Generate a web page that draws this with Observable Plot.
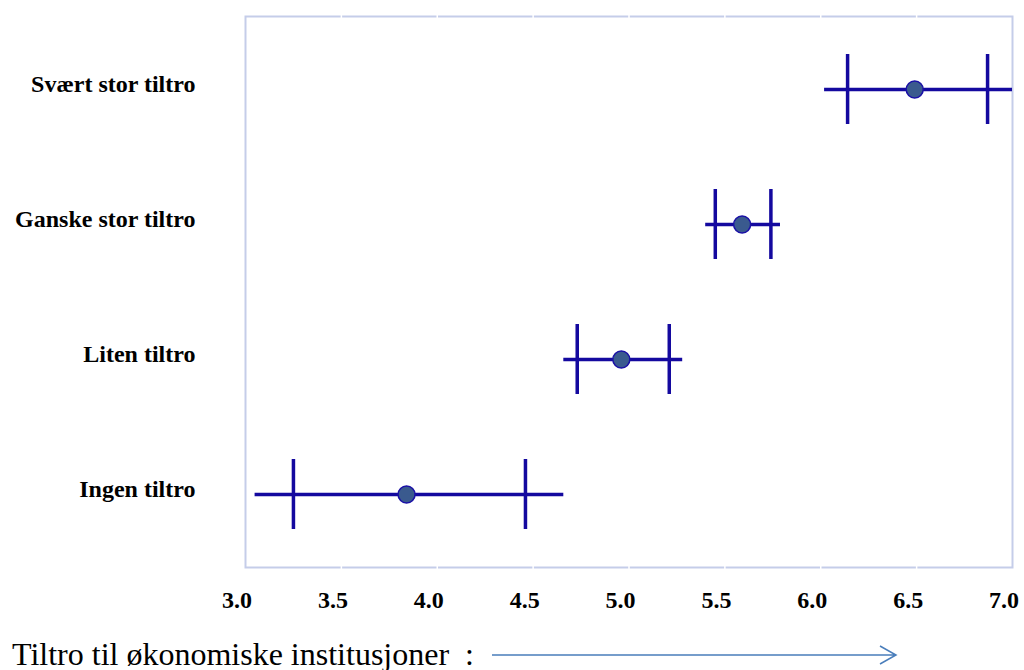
<!DOCTYPE html>
<html>
<head>
<meta charset="utf-8">
<script src="https://cdn.jsdelivr.net/npm/d3@7"></script>
<script src="https://cdn.jsdelivr.net/npm/@observablehq/plot@0.6"></script>
<style>
  html, body { margin: 0; padding: 0; background: #fff; overflow: hidden; }
  #wrap { position: relative; width: 1024px; height: 670px; }
  #caption {
    position: absolute; left: 12px; top: 638px;
    font-family: "Liberation Serif", "Times New Roman", serif;
    font-size: 32px; line-height: 32px; white-space: pre; color: #000;
  }
  #arrow { position: absolute; left: 0; top: 0; pointer-events: none; }
</style>
</head>
<body>
<div id="wrap"></div>
<script>
const categories = ["Svært stor tiltro", "Ganske stor tiltro", "Liten tiltro", "Ingen tiltro"];
const means     = [6.49, 5.59, 4.96, 3.84];
const lineLow   = [6.02, 5.40, 4.66, 3.05];
const lineHigh  = [7.00, 5.79, 5.28, 4.66];
const barLow    = [6.14, 5.45, 4.73, 3.25];
const barHigh   = [6.87, 5.74, 5.21, 4.46];
const xTicks    = [3.0, 3.5, 4.0, 4.5, 5.0, 5.5, 6.0, 6.5, 7.0];
const innerTicks = [3.5, 4.0, 4.5, 5.0, 5.5, 6.0, 6.5];
const captionText = "Tiltro til økonomiske institusjoner  :";

const rows = categories.map((c, i) => ({
  cat: c, mean: means[i], lo: lineLow[i], hi: lineHigh[i], blo: barLow[i], bhi: barHigh[i]
}));
const bars = rows.flatMap(r => [{cat: r.cat, v: r.blo}, {cat: r.cat, v: r.bhi}]);

const lineColor = "#14099f";

const chart = Plot.plot({
  width: 1024,
  height: 670,
  marginLeft: 245,
  marginRight: 12,
  marginTop: 16,
  marginBottom: 103,
  style: {fontFamily: "'Liberation Serif', 'Times New Roman', serif", fontSize: "24px", fontWeight: "bold", color: "#000", background: "#fff"},
  x: {domain: [3, 7]},
  y: {type: "band", domain: categories, paddingInner: 0.484, paddingOuter: 0.272},
  marks: [
    Plot.frame({stroke: "#c5cde9", strokeWidth: 2}),
    Plot.ruleX(innerTicks, {stroke: "white", strokeWidth: 1.5, insetTop: -2, insetBottom: -2}),
    Plot.axisX({ticks: xTicks, tickFormat: d3.format(".1f"), tickSize: 0, tickPadding: 23, dx: -8.5, label: null, fontSize: 24, fontWeight: "bold"}),
    Plot.axisY({tickSize: 0, tickPadding: 50, dy: -5, label: null, fontSize: 24, fontWeight: "bold"}),
    Plot.ruleY(rows, {y: "cat", x1: "lo", x2: "hi", stroke: lineColor, strokeWidth: 3.5, clip: true}),
    Plot.tickX(bars, {x: "v", y: "cat", stroke: lineColor, strokeWidth: 3.5}),
    Plot.dot(rows, {x: "mean", y: "cat", r: 8.5, fill: "#3a5a8e", stroke: "#1a10a6", strokeWidth: 1.5})
  ]
});

const wrap = document.getElementById("wrap");
wrap.appendChild(chart);

const cap = document.createElement("div");
cap.id = "caption";
cap.textContent = captionText;
wrap.appendChild(cap);

const ns = "http://www.w3.org/2000/svg";
const arr = document.createElementNS(ns, "svg");
arr.setAttribute("id", "arrow");
arr.setAttribute("width", 1024);
arr.setAttribute("height", 670);
const p = document.createElementNS(ns, "path");
p.setAttribute("d", "M492,655H895M880,646L896,655L880,664");
p.setAttribute("fill", "none");
p.setAttribute("stroke", "#4a7ebb");
p.setAttribute("stroke-width", "1.5");
arr.appendChild(p);
wrap.appendChild(arr);
</script>
</body>
</html>
